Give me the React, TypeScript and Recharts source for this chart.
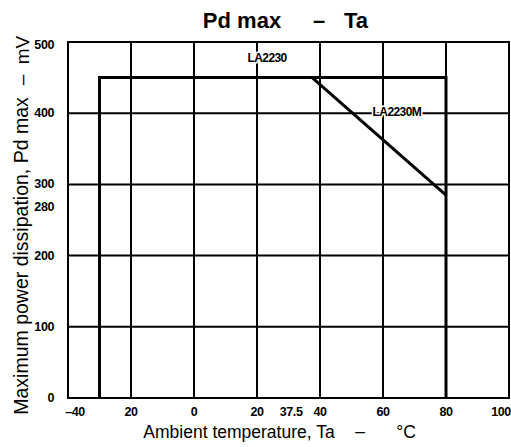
import React from 'react';
import { LineChart, Line, XAxis, YAxis, ReferenceLine, ReferenceArea, ReferenceDot } from 'recharts';

// temperature (°C) vs power (mV)
const la2230 = [
  { ta: -30, pd: 0 },
  { ta: -30, pd: 450 },
  { ta: 80, pd: 450 },
  { ta: 80, pd: 0 },
];
const la2230m = [
  { ta: 37.5, pd: 450 },
  { ta: 80, pd: 285 },
];

const xTicks = [-40, -20, 0, 20, 37.5, 40, 60, 80, 100];
const xTickLabels = ['–40', '20', '0', '20', '37.5', '40', '60', '80', '100'];
const yTicks = [0, 100, 200, 280, 300, 400, 500];
const gridX = [-20, 0, 20, 40, 60, 80];
const gridY = [100, 200, 300, 400];

const FONT = '"Liberation Sans", Arial, sans-serif';

const xShift: Record<string, number> = { '-40': 7, '37.5': -21, '100': -8 };

const XTick = (props: any) => {
  const { x, y, payload } = props;
  const i = xTicks.indexOf(payload.value);
  const dx = xShift[String(payload.value)] || 0;
  return (
    <text x={x + dx} y={y} dy={12} textAnchor="middle" fontFamily={FONT} fontWeight={700} fontSize={12.5} fill="#000" letterSpacing={-0.4}>
      {xTickLabels[i]}
    </text>
  );
};

const YTick = (props: any) => {
  const { x, y, payload } = props;
  const dy = payload.value === 280 ? 12 : payload.value === 500 ? 7 : 4;
  return (
    <text x={x} y={y} dy={dy} textAnchor="end" fontFamily={FONT} fontWeight={700} fontSize={12.5} fill="#000" letterSpacing={-0.4}>
      {payload.value}
    </text>
  );
};

const SeriesLabel = (text: string) => (props: any) => {
  const { viewBox } = props;
  const cx = viewBox.x + (viewBox.width || 0) / 2;
  const cy = viewBox.y + (viewBox.height || 0) / 2;
  return (
    <text x={cx} y={cy} dy={4} textAnchor="middle" fontFamily={FONT} fontWeight={700} fontSize={12} fill="#000" letterSpacing={-0.6}
      stroke="#fff" strokeWidth={3} paintOrder="stroke">
      {text}
    </text>
  );
};

const Piece = ({ x, y, size, bold, children }: any) => (
  <div style={{ position: 'absolute', left: x, top: y, transform: 'translate(-50%, -50%)', whiteSpace: 'pre',
    fontFamily: FONT, fontWeight: bold ? 700 : 400, fontSize: size, lineHeight: 1, color: '#000' }}>
    {children}
  </div>
);

export default function App() {
  return (
    <div style={{ position: 'absolute', left: 0, top: 0, width: 511, height: 447, background: '#fff', overflow: 'hidden' }}>
      <LineChart width={511} height={447} margin={{ top: 42, right: 2, bottom: 19, left: 0 }}>
        <XAxis type="number" dataKey="ta" domain={[-40, 100]} ticks={xTicks} interval={0} allowDataOverflow height={30}
          axisLine={false} tickLine={false} tick={<XTick />} tickMargin={0} />
        <YAxis type="number" dataKey="pd" domain={[0, 500]} ticks={yTicks} interval={0} width={68}
          axisLine={false} tickLine={false} tick={<YTick />} tickMargin={8} />
        {gridX.map(v => (
          <ReferenceLine key={'gx' + v} x={v} stroke="#000" strokeWidth={2} />
        ))}
        {gridY.map(v => (
          <ReferenceLine key={'gy' + v} y={v} stroke="#000" strokeWidth={2} />
        ))}
        <ReferenceArea x1={-40} x2={100} y1={0} y2={500} fill="none" stroke="#000" strokeWidth={2} />
        <Line data={la2230} dataKey="pd" type="linear" stroke="#000" strokeWidth={3} dot={false} isAnimationActive={false} />
        <Line data={la2230m} dataKey="pd" type="linear" stroke="#000" strokeWidth={3} dot={false} isAnimationActive={false} />
        <ReferenceDot x={23.2} y={477} r={0} fill="none" stroke="none" label={SeriesLabel('LA2230')} />
        <ReferenceDot x={64.4} y={401} r={0} fill="none" stroke="none" label={SeriesLabel('LA2230M')} />
      </LineChart>

      {/* title */}
      <Piece x={242} y={21} size={22} bold>Pd max</Piece>
      <Piece x={319} y={21} size={22} bold>–</Piece>
      <Piece x={356} y={21} size={22} bold>Ta</Piece>

      {/* x axis title */}
      <Piece x={239} y={433} size={17.5}>Ambient temperature, Ta</Piece>
      <Piece x={360} y={432} size={17.5}>–</Piece>
      <Piece x={406} y={433} size={17.5}>°C</Piece>

      {/* y axis title */}
      <div style={{ position: 'absolute', left: 22, top: 226, width: 0, height: 0 }}>
        <div style={{ position: 'absolute', left: 0, top: 0, transform: 'rotate(-90deg)' }}>
          <Piece x={-30} y={0} size={19.5}>Maximum power dissipation, Pd max</Piece>
          <Piece x={146} y={-1} size={19}>–</Piece>
          <Piece x={176} y={0} size={19}>mV</Piece>
        </div>
      </div>
    </div>
  );
}
